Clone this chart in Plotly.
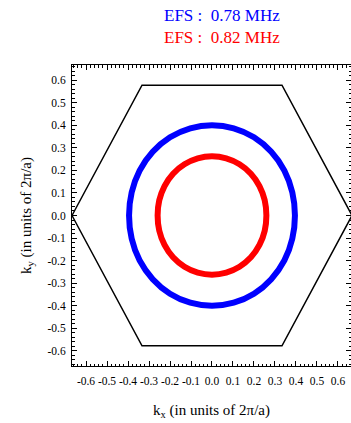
import numpy as np
import plotly.graph_objects as go

# Equi-frequency surface contours: radius (units of 2*pi/a) sampled every 15 degrees
angles_deg = [0, 15, 30, 45, 60, 75, 90, 105, 120, 135, 150, 165,
              180, 195, 210, 225, 240, 255, 270, 285, 300, 315, 330, 345]
r_078 = [0.395, 0.396, 0.398, 0.399, 0.400, 0.400, 0.400, 0.400, 0.400, 0.399, 0.398, 0.396,
         0.395, 0.396, 0.398, 0.399, 0.400, 0.400, 0.400, 0.400, 0.400, 0.399, 0.398, 0.396]
r_082 = [0.259, 0.260, 0.261, 0.262, 0.262, 0.262, 0.262, 0.262, 0.262, 0.262, 0.261, 0.260,
         0.259, 0.260, 0.261, 0.262, 0.262, 0.262, 0.262, 0.262, 0.262, 0.262, 0.261, 0.260]

# First Brillouin zone (hexagon) corners
bz_kx = [0.6667, 0.3333, -0.3333, -0.6667, -0.3333, 0.3333, 0.6667]
bz_ky = [0.0, 0.5774, 0.5774, 0.0, -0.5774, -0.5774, 0.0]

tick_vals = [-0.6, -0.5, -0.4, -0.3, -0.2, -0.1, 0.0, 0.1, 0.2, 0.3, 0.4, 0.5, 0.6]
tick_text = ["-0.6", "-0.5", "-0.4", "-0.3", "-0.2", "-0.1", "0.0",
             "0.1", "0.2", "0.3", "0.4", "0.5", "0.6"]

labels = ["EFS :\u00a0 0.78 MHz", "EFS :\u00a0 0.82 MHz"]
colors = ["#0000ff", "#ff0000"]

SERIF = "Liberation Serif"


def closed_xy(radii):
    th = np.deg2rad(np.array(angles_deg + [angles_deg[0] + 360]))
    r = np.array(radii + [radii[0]])
    return r * np.cos(th), r * np.sin(th)


fig = go.Figure()
fig.add_trace(go.Scatter(x=bz_kx, y=bz_ky, mode="lines",
                         line=dict(color="black", width=1.5), hoverinfo="skip"))
for radii, col in zip([r_078, r_082], colors):
    x, y = closed_xy(radii)
    fig.add_trace(go.Scatter(x=x, y=y, mode="lines",
                             line=dict(color=col, width=6, shape="spline", smoothing=0.8)))

axis_common = dict(
    showgrid=False, zeroline=False, showline=True, linecolor="black", linewidth=1,
    mirror="allticks", ticks="inside", ticklen=5, tickwidth=1, tickcolor="black",
    tickvals=tick_vals, ticktext=tick_text,
    tickfont=dict(family=SERIF, size=11.5, color="black"),
    minor=dict(ticks="inside", ticklen=2.5, dtick=0.02, tickcolor="black", showgrid=False),
)

fig.update_xaxes(range=[-0.6667, 0.662], ticklabelstandoff=4,
                 title=dict(text="k<sub>x</sub> (in units of 2\u03c0/a)",
                            font=dict(family=SERIF, size=15, color="black"), standoff=18),
                 **axis_common)
fig.update_yaxes(range=[-0.6667, 0.6667], ticklabelstandoff=3,
                 title=dict(text="k<sub>y</sub> (in units of 2\u03c0/a)",
                            font=dict(family=SERIF, size=15, color="black"), standoff=12),
                 **axis_common)

for text, col, yp in zip(labels, colors, [1.163, 1.090]):
    fig.add_annotation(text=text, xref="paper", yref="paper", x=0.538, y=yp,
                       showarrow=False, xanchor="center", yanchor="middle",
                       font=dict(family=SERIF, size=17, color=col))

fig.update_layout(
    width=351, height=423,
    margin=dict(l=72, r=0, t=65, b=57),
    paper_bgcolor="white", plot_bgcolor="white",
    showlegend=False,
)

fig.write_html("out.html")
